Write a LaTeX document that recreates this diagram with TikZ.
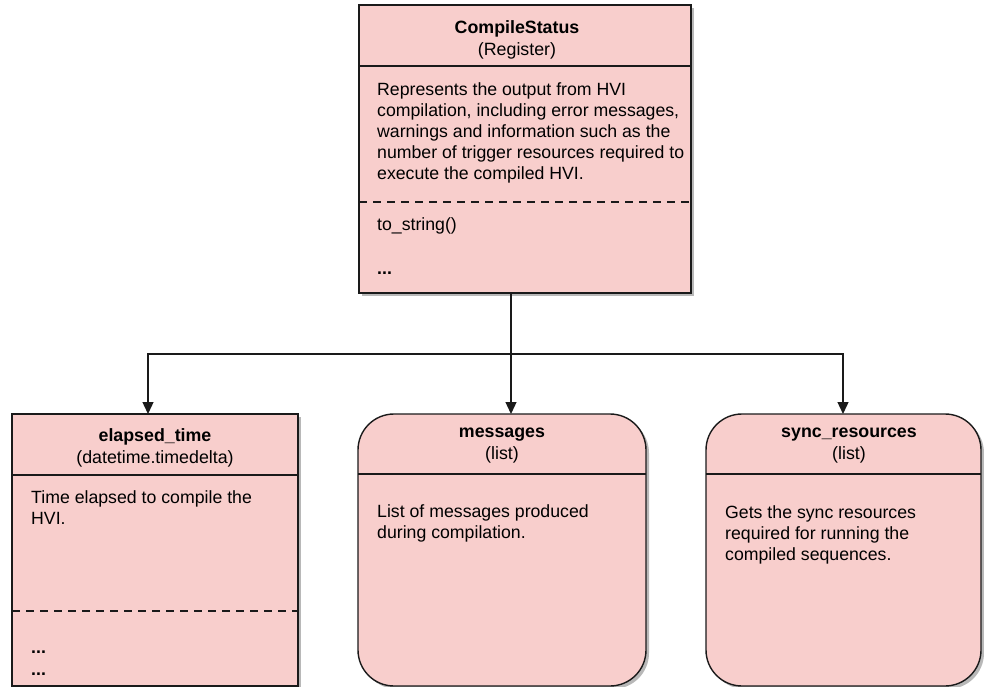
\documentclass[tikz,border=0pt]{standalone}
\usepackage{fontspec}
\setmainfont{Liberation Sans}
\usetikzlibrary{arrows.meta,shadows}
\definecolor{boxfill}{HTML}{F8CECC}
\definecolor{boxline}{HTML}{1A1A1A}
\begin{document}
\begin{tikzpicture}[x=1pt,y=-1pt,
  box/.style={draw=boxline, fill=boxfill, line width=1.4pt, inner sep=0pt, outer sep=0pt,
    anchor=north west,
    drop shadow={shadow xshift=3pt, shadow yshift=-3pt, fill=black, opacity=0.28}},
  roundbox/.style={box, rounded corners=36pt},
  title/.style={anchor=north, align=center, inner sep=0pt, font=\fontsize{17.8}{22}\selectfont},
  desc/.style={anchor=north west, align=left, inner sep=0pt, font=\fontsize{17.7}{21.2}\selectfont},
  oneline/.style={anchor=base west, inner sep=0pt, font=\fontsize{17.7}{21.2}\selectfont},
  sepline/.style={draw=boxline, line width=1.4pt},
  dashline/.style={draw=boxline, line width=2.2pt, dash pattern=on 8pt off 6pt},
  conn/.style={draw=boxline, line width=1.3pt},
  arr/.style={conn, -{Triangle[width=11pt,length=12pt]}}
]
\useasboundingbox (0,0) rectangle (984,687);

% top box
\node[box, minimum width=332pt, minimum height=288pt] (cs) at (359,5) {};
\draw[sepline] (cs.west |- 0,66) -- (cs.east |- 0,66);
\draw[dashline] (cs.west |- 0,202) -- (cs.east |- 0,202);
\node[title] (cst) at (517,20) {\textbf{CompileStatus}\\(Register)};
\node[desc] (csd) at (377,82) {Represents the output from HVI\\compilation, including error messages,\\warnings and information such as the\\number of trigger resources required to\\execute the compiled HVI.};
\node[oneline] (csm) at (377,230) {to\_string()};
\node[oneline] (cse) at (377,274) {\textbf{...}};

% left box
\node[box, minimum width=286pt, minimum height=272pt] (et) at (12,414) {};
\draw[sepline] (et.west |- 0,475) -- (et.east |- 0,475);
\draw[dashline] (et.west |- 0,611) -- (et.east |- 0,611);
\node[title] (ett) at (155,428) {\textbf{elapsed\_time}\\(datetime.timedelta)};
\node[desc] (etd) at (31,490) {Time elapsed to compile the\\HVI.};
\node[oneline] (ete1) at (31,653) {\textbf{...}};
\node[oneline] (ete2) at (31,675) {\textbf{...}};

% middle box
\node[roundbox, minimum width=288pt, minimum height=272pt] (ms) at (358,414) {};
\draw[sepline] (ms.west |- 0,474) -- (ms.east |- 0,474);
\node[title] (mst) at (502,428) {\textbf{messages}\\(list)};
\node[desc] (msd) at (377,504) {List of messages produced\\during compilation.};

% right box
\node[roundbox, minimum width=275pt, minimum height=272pt] (sr) at (706,414) {};
\draw[sepline] (sr.west |- 0,474) -- (sr.east |- 0,474);
\node[title] (srt) at (849,428) {\textbf{sync\_resources}\\(list)};
\node[desc] (srd) at (725,505) {Gets the sync resources\\required for running the\\compiled sequences.};

% connectors
\coordinate (jc) at (511,354);
\coordinate (jl) at (148,354);
\coordinate (jr) at (843,354);
\draw[arr] (cs.south -| jc) -- (ms.north -| jc);
\draw[arr] (jc) -- (jl) -- (et.north -| jl);
\draw[arr] (jc) -- (jr) -- (sr.north -| jr);
\end{tikzpicture}
\end{document}
